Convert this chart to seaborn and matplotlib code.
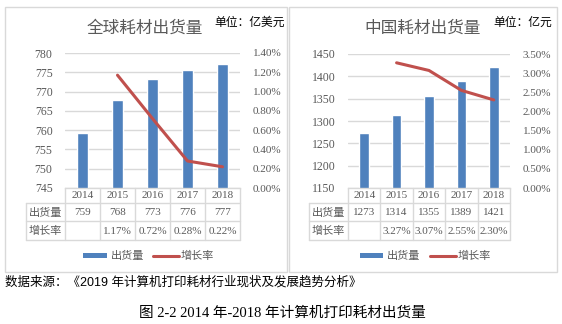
import numpy as np
import pandas as pd
import matplotlib
matplotlib.use("Agg")
import matplotlib.pyplot as plt
import seaborn as sns
from matplotlib.transforms import blended_transform_factory
from matplotlib.patches import Rectangle
from matplotlib.lines import Line2D

# ---------------- data ----------------
years = ["2014", "2015", "2016", "2017", "2018"]
global_shipments = [759.2, 767.9, 773.3, 775.6, 777.2]       # 亿美元
global_growth = [np.nan, 1.17, 0.72, 0.28, 0.22]             # %
china_shipments = [1273, 1314, 1355, 1389, 1421]             # 亿元
china_growth = [np.nan, 3.27, 3.07, 2.55, 2.30]              # %

global_yticks = [745, 750, 755, 760, 765, 770, 775, 780]
global_y2ticks = [0.0, 0.2, 0.4, 0.6, 0.8, 1.0, 1.2, 1.4]
china_yticks = [1150, 1200, 1250, 1300, 1350, 1400, 1450]
china_y2ticks = [0.0, 0.5, 1.0, 1.5, 2.0, 2.5, 3.0, 3.5]

row_labels = ["出货量", "增长率"]
legend_labels = ["出货量", "增长率"]
titles = ["全球耗材出货量", "中国耗材出货量"]
units = ["单位：亿美元", "单位：亿元"]
source_text = "数据来源：《2019 年计算机打印耗材行业现状及发展趋势分析》"
caption = "图 2-2 2014 年-2018 年计算机打印耗材出货量"

# ---------------- style ----------------
sns.set_theme(style="white")
plt.rcParams["font.family"] = ["Liberation Serif", "Noto Sans CJK SC"]

BAR = "#4f81bd"
LINE = "#c0504d"
GRID = "#d9d9d9"
TXT = "#595959"

W, H = 562, 324
fig = plt.figure(figsize=(W / 100, H / 100), dpi=100)
fig.patch.set_facecolor("white")


def fx(px):
    return px / W


def fy(py):
    return 1 - py / H


def panel(box, axbox, table_left, title, title_x, unit, unit_x,
          ship, growth, yticks, y2ticks, y2fmt):
    # panel border
    bx0, by0, bx1, by1 = box
    fig.add_artist(Rectangle((fx(bx0), fy(by1)), (bx1 - bx0) / W, (by1 - by0) / H,
                             transform=fig.transFigure, fill=False,
                             edgecolor=GRID, lw=1.0))
    l, t, r, b = axbox
    ax = fig.add_axes([fx(l), fy(b), (r - l) / W, (b - t) / H])
    df = pd.DataFrame({"year": years, "ship": ship})
    sns.barplot(data=df, x="year", y="ship", ax=ax, color=BAR,
                saturation=1, width=0.3)
    ax.set_ylim(yticks[0], yticks[-1])
    ax.set_yticks(yticks)
    ax.set_yticklabels([str(v) for v in yticks], color=TXT, fontsize=8.5)
    ax.set_xlim(-0.5, len(years) - 0.5)
    ax.set_xticks([])
    ax.set_xlabel("")
    ax.set_ylabel("")
    ax.yaxis.grid(True, color=GRID, lw=1.0)
    ax.set_axisbelow(True)
    for s in ["left", "right", "top"]:
        ax.spines[s].set_visible(False)
    ax.spines["bottom"].set_color(GRID)
    ax.spines["bottom"].set_linewidth(1.0)
    ax.tick_params(axis="y", length=0, pad=9)
    ax.set_facecolor("none")

    ax2 = ax.twinx()
    sns.lineplot(x=np.arange(len(years)), y=growth, ax=ax2, color=LINE, lw=2.2)
    ax2.set_ylim(y2ticks[0], y2ticks[-1])
    ax2.set_yticks(y2ticks)
    ax2.set_yticklabels([y2fmt.format(v) for v in y2ticks], color=TXT, fontsize=8)
    ax2.tick_params(axis="y", length=0, pad=9)
    ax2.set_ylabel("")
    for s in ax2.spines.values():
        s.set_visible(False)
    ax2.set_xlim(-0.5, len(years) - 0.5)

    # title and unit
    fig.text(fx(title_x), fy(29), title, ha="center", va="center",
             fontsize=12, color=TXT)
    fig.text(fx(unit_x), fy(23), unit, ha="right", va="center",
             fontsize=8.5, color="black")

    # data table
    tr = blended_transform_factory(ax.transData, fig.transFigure)
    y_top, y1, y2, y_bot = 188, 203, 221, 240
    for i in range(len(years) + 1):
        fig.add_artist(Line2D([i - 0.5, i - 0.5], [fy(y_top), fy(y_bot)],
                              transform=tr, color=GRID, lw=1.0))
    fig.add_artist(Line2D([fx(table_left)] * 2, [fy(y1), fy(y_bot)],
                          transform=fig.transFigure, color=GRID, lw=1.0))
    for yy in (y1, y2, y_bot):
        fig.add_artist(Line2D([fx(table_left), fx(r)], [fy(yy)] * 2,
                              transform=fig.transFigure, color=GRID, lw=1.0))
    for i, yr in enumerate(years):
        fig.text(i, fy(196), yr, transform=tr, ha="center", va="center",
                 fontsize=8, color=TXT)
        fig.text(i, fy(212.5), f"{ship[i]:.0f}", transform=tr, ha="center",
                 va="center", fontsize=8, color=TXT)
        if not np.isnan(growth[i]):
            fig.text(i, fy(231), f"{growth[i]:.2f}%", transform=tr,
                     ha="center", va="center", fontsize=8, color=TXT)
    hx = (table_left + l) / 2
    fig.text(fx(hx), fy(212.5), row_labels[0], ha="center", va="center",
             fontsize=8, color=TXT)
    fig.text(fx(hx), fy(231), row_labels[1], ha="center", va="center",
             fontsize=8, color=TXT)

    # legend
    c = (l + r) / 2
    fig.add_artist(Rectangle((fx(c - 69.5), fy(258.3)), 23.5 / W, 5.5 / H,
                             transform=fig.transFigure, color=BAR, lw=0))
    fig.text(fx(c - 42), fy(255.7), legend_labels[0], ha="left", va="center",
             fontsize=8, color=TXT)
    fig.add_artist(Line2D([fx(c + 0.5), fx(c + 26.5)], [fy(255.5)] * 2,
                          transform=fig.transFigure, color=LINE, lw=2.2))
    fig.text(fx(c + 28.5), fy(255.7), legend_labels[1], ha="left", va="center",
             fontsize=8, color=TXT)


panel((5, 7, 287, 272), (65, 53, 240, 188), 26, titles[0], 145,
      units[0], 285, global_shipments, global_growth,
      global_yticks, global_y2ticks, "{:.2f}%")
panel((289, 7, 557, 272), (348, 54, 510, 188), 309, titles[1], 423,
      units[1], 552, china_shipments, china_growth,
      china_yticks, china_y2ticks, "{:.2f}%")

fig.text(fx(5), fy(282), source_text, ha="left", va="center", fontsize=9,
         color="black", family=["Liberation Sans", "Noto Sans CJK SC"])
fig.text(fx(282), fy(313), caption, ha="center", va="center", fontsize=10.5,
         color="black")

fig.savefig("out.png", dpi=100)
